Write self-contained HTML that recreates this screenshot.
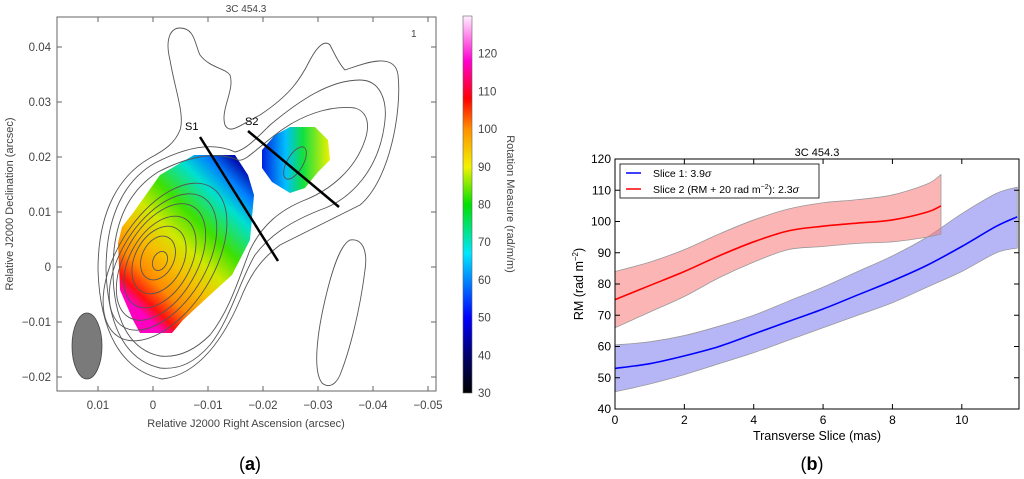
<!DOCTYPE html>
<html><head><meta charset="utf-8"><style>
body{margin:0;background:#fff;width:1024px;height:479px;overflow:hidden}
svg{position:absolute;left:0;top:0}
text{font-family:"Liberation Sans",sans-serif}
</style></head><body>
<svg width="1024" height="479">
<defs>
<linearGradient id="cb" x1="0" y1="1" x2="0" y2="0">
<stop offset="0" stop-color="#000"/><stop offset="0.1" stop-color="#00006e"/><stop offset="0.2" stop-color="#0000ff"/>
<stop offset="0.37" stop-color="#00e6ff"/><stop offset="0.5" stop-color="#00e000"/><stop offset="0.6" stop-color="#f2f200"/>
<stop offset="0.7" stop-color="#ff9000"/><stop offset="0.78" stop-color="#ff0000"/><stop offset="0.88" stop-color="#ff00d0"/><stop offset="1" stop-color="#fff0ff"/>
</linearGradient>
<linearGradient id="g1" gradientUnits="userSpaceOnUse" x1="118" y1="290" x2="240" y2="165">
<stop offset="0" stop-color="#ff00c0"/><stop offset="0.07" stop-color="#ff1010"/><stop offset="0.18" stop-color="#ff8a00"/>
<stop offset="0.32" stop-color="#f5c000"/><stop offset="0.45" stop-color="#d0e800"/><stop offset="0.6" stop-color="#40e000"/><stop offset="0.78" stop-color="#00e0d0"/><stop offset="0.9" stop-color="#0080ff"/><stop offset="1" stop-color="#0010b0"/>
</linearGradient>
<linearGradient id="g2" gradientUnits="userSpaceOnUse" x1="262" y1="160" x2="330" y2="160">
<stop offset="0" stop-color="#0020e0"/><stop offset="0.35" stop-color="#00c0ff"/><stop offset="0.6" stop-color="#10e040"/><stop offset="1" stop-color="#f0f000"/>
</linearGradient>
</defs>

<g>
<text x="246" y="12" font-size="10" fill="#444" text-anchor="middle">3C 454.3</text>
<path d="M118,243 L122,227 L133,213 L160,175 L194,155 L235,155 L248,175 L254,195 L250,240 L232,275 L210,295 L183,320 L172,333 L140,333 L133,320 L120,290 Z" fill="url(#g1)"/>
<path d="M262,150 L275,135 L290,127 L315,127 L328,140 L330,160 L318,172 L305,188 L290,193 L272,182 L262,168 Z" fill="url(#g2)"/>
<g fill="none" stroke="#555" stroke-width="0.9">
<path d="M162,379 C120,370 100,330 98,270 C98,210 120,175 150,158 C165,150 175,143 180,130 C185,115 175,90 170,60 C165,40 170,28 180,28 C195,28 195,45 200,55 C210,68 225,68 230,75 C235,90 220,110 225,125 C230,135 240,125 260,115 C290,95 300,80 310,60 C318,45 325,40 330,45 C335,55 340,65 345,70 C360,65 395,50 398,75 C402,110 390,180 360,205 C330,220 300,235 280,245 C260,260 250,275 240,300 C225,335 200,375 162,379 Z"/>
<path d="M160,368 C125,360 108,325 106,270 C106,215 125,180 155,163 C180,150 210,140 235,152 C245,150 255,140 270,125 C300,100 330,80 360,80 C380,80 387,100 385,120 C380,170 350,200 320,210 C290,222 270,235 255,255 C240,280 230,320 210,345 C195,362 180,370 160,368 Z"/>
<path d="M160,356 C130,350 113,320 113,270 C113,220 130,190 158,172 C185,158 215,150 238,160 C245,162 255,150 275,135 C300,115 330,105 355,108 C368,112 370,125 365,140 C355,170 330,190 305,200 C280,210 262,225 250,250 C240,275 230,310 210,335 C195,350 178,358 160,356 Z"/>
<ellipse cx="165" cy="262" rx="48" ry="88" transform="rotate(32 165 262)"/>
<ellipse cx="163" cy="262" rx="42" ry="76" transform="rotate(32 163 262)"/>
<ellipse cx="161" cy="262" rx="36" ry="64" transform="rotate(30 161 262)"/>
<ellipse cx="160" cy="262" rx="30" ry="50" transform="rotate(30 160 262)"/>
<ellipse cx="159" cy="260" rx="24" ry="36" transform="rotate(28 159 260)"/>
<ellipse cx="158" cy="258" rx="16" ry="23" transform="rotate(25 158 258)"/>
<ellipse cx="160" cy="261" rx="7" ry="10" transform="rotate(25 160 261)"/>
<ellipse cx="295" cy="163" rx="8" ry="18" transform="rotate(30 295 163)"/>
<path d="M322,383 C312,370 318,330 325,300 C332,270 340,245 350,240 C362,238 368,250 365,270 C360,310 350,350 340,375 C335,386 328,388 322,383 Z"/>
</g>
<ellipse cx="87" cy="346" rx="15" ry="33" fill="#7a7a7a" stroke="#444" stroke-width="0.8"/>
<line x1="200" y1="137" x2="278" y2="261" stroke="#000" stroke-width="2.5"/>
<line x1="248" y1="131" x2="339" y2="207" stroke="#000" stroke-width="2.5"/>
<text x="185" y="130" font-size="11">S1</text>
<text x="245" y="125" font-size="11">S2</text>
<text x="411" y="37" font-size="10" fill="#444">1</text>
<rect x="57" y="17" width="379" height="374" fill="none" stroke="#666" stroke-width="1"/>
<g id="mapAxes" font-size="11.5" fill="#444"></g>
<text x="246" y="427" font-size="11" fill="#444" text-anchor="middle">Relative J2000 Right Ascension (arcsec)</text>
<text transform="translate(13,204) rotate(-90)" font-size="11" fill="#444" text-anchor="middle">Relative J2000 Declination (arcsec)</text>
<rect x="463" y="16" width="9" height="377" fill="url(#cb)" stroke="#666" stroke-width="0.6"/>
<g id="cbTicks" font-size="11.5" fill="#444"></g>
<text transform="translate(507,204) rotate(90)" font-size="11" fill="#444" text-anchor="middle">Rotation Measure (rad/m/m)</text>
</g>

<g>
<text x="817" y="156" font-size="11" text-anchor="middle">3C 454.3</text>
<g id="bands"></g>
<g id="lines"></g>
<rect x="615" y="159" width="404" height="250" fill="none" stroke="#000" stroke-width="1"/>
<g id="axes" font-size="12"></g>
<text x="817" y="440" font-size="12.5" text-anchor="middle">Transverse Slice (mas)</text>
<text transform="translate(583,284) rotate(-90)" font-size="12.5" text-anchor="middle">RM (rad m<tspan font-size="8" dy="-5">−2</tspan><tspan dy="5">)</tspan></text>
<g>
<rect x="620" y="164" width="199" height="34" fill="#fff" stroke="#000" stroke-width="0.8"/>
<line x1="626" y1="173" x2="641" y2="173" stroke="#00f" stroke-width="1.5"/>
<text x="653" y="177" font-size="10.5">Slice 1: 3.9<tspan font-style="italic">σ</tspan></text>
<line x1="626" y1="189" x2="641" y2="189" stroke="#f00" stroke-width="1.5"/>
<text x="653" y="193" font-size="10.5">Slice 2 (RM + 20 rad m<tspan font-size="7" dy="-4">−2</tspan><tspan dy="4">): 2.3</tspan><tspan font-style="italic">σ</tspan></text>
</g>
</g>
<text x="250" y="470" font-size="18" font-family="Liberation Serif" text-anchor="middle">(<tspan font-weight="bold">a</tspan>)</text>
<text x="812" y="470" font-size="18" font-family="Liberation Serif" text-anchor="middle">(<tspan font-weight="bold">b</tspan>)</text>
</svg>
<script>
const slice1X=[0,1,2,3,4,5,6,7,8,9,10,11,11.6];
const slice1RM=[53,54.5,57,60,64,68,72,76.5,81,86,92,98.5,101.5];
const slice1Upper=[60.5,61.5,63.5,66.5,70,74.5,79,84,89,95,102.5,109,111];
const slice1Lower=[45.5,48,51,54.5,58,62,66,70,74,79,84,90,91.5];
const slice2X=[0,1,2,3,4,5,6,7,8,9,9.4];
const slice2RM=[75,79.5,84,89,93.5,97,98.5,99.5,100.5,103,105];
const slice2Upper=[84,87,91,96,100.5,104,106,107,108.5,112,115];
const slice2Lower=[66,71,76,82,87,91,92,93,93.5,95,96];
const xTicks=[0,2,4,6,8,10];
const yTicks=[40,50,60,70,80,90,100,110,120];
const mapXTicks=[0.01,0,-0.01,-0.02,-0.03,-0.04,-0.05];
const mapYTicks=[0.04,0.03,0.02,0.01,0,-0.01,-0.02];
const cbTicks=[30,40,50,60,70,80,90,100,110,120];
const NS='http://www.w3.org/2000/svg';
const X=v=>615+v*(404/11.65), Y=v=>409-(v-40)*(250/80);
const MX=v=>153-v*5500, MY=v=>267-v*5500, CB=v=>393-(v-30)*3.77;
function mk(t,a,p){const e=document.createElementNS(NS,t);for(const k in a)e.setAttribute(k,a[k]);p.appendChild(e);return e;}
function smooth(xs,ys){let d='';for(let i=0;i<xs.length;i++){const x=X(xs[i]),y=Y(ys[i]);if(i==0){d+='M'+x+','+y;continue;}
const x0=X(xs[i-1]),y0=Y(ys[i-1]);const xm=X(xs[Math.max(i-2,0)]),ym=Y(ys[Math.max(i-2,0)]);const xp=X(xs[Math.min(i+1,xs.length-1)]),yp=Y(ys[Math.min(i+1,xs.length-1)]);
d+=` C${x0+(x-xm)/6},${y0+(y-ym)/6} ${x-(xp-x0)/6},${y-(yp-y0)/6} ${x},${y}`;}return d;}
function band(xs,u,l,fill,name){const up=smooth(xs,u);const lo=smooth(xs.slice().reverse(),l.slice().reverse());
const p=mk('path',{d:up+' L'+lo.slice(1)+' Z',fill:fill,stroke:'#999','stroke-width':0.8},document.getElementById('bands'));

}
band(slice1X,slice1Upper,slice1Lower,'rgba(110,110,240,0.5)','slice1-error-band');
band(slice2X,slice2Upper,slice2Lower,'rgba(250,120,120,0.55)','slice2-error-band');
const l1=mk('path',{d:smooth(slice1X,slice1RM),fill:'none',stroke:'#00f','stroke-width':1.6},document.getElementById('lines'));


const l2=mk('path',{d:smooth(slice2X,slice2RM),fill:'none',stroke:'#f00','stroke-width':1.6},document.getElementById('lines'));


const ax=document.getElementById('axes');
xTicks.forEach(v=>{mk('line',{x1:X(v),x2:X(v),y1:409,y2:404,stroke:'#000'},ax);mk('line',{x1:X(v),x2:X(v),y1:159,y2:164,stroke:'#000'},ax);
const t=mk('text',{x:X(v),y:424,'text-anchor':'middle'},ax);t.textContent=v;

});
yTicks.forEach(v=>{mk('line',{x1:615,x2:620,y1:Y(v),y2:Y(v),stroke:'#000'},ax);mk('line',{x1:1019,x2:1014,y1:Y(v),y2:Y(v),stroke:'#000'},ax);
const t=mk('text',{x:611,y:Y(v)+4,'text-anchor':'end'},ax);t.textContent=v;

});
const ma=document.getElementById('mapAxes');
mapXTicks.forEach(v=>{mk('line',{x1:MX(v),x2:MX(v),y1:391,y2:386,stroke:'#666'},ma);mk('line',{x1:MX(v),x2:MX(v),y1:17,y2:22,stroke:'#666'},ma);
const t=mk('text',{x:MX(v),y:409,'text-anchor':'middle'},ma);t.textContent=v==0?'0':String(v).replace('-','−');

});
mapYTicks.forEach(v=>{mk('line',{x1:57,x2:62,y1:MY(v),y2:MY(v),stroke:'#666'},ma);mk('line',{x1:436,x2:431,y1:MY(v),y2:MY(v),stroke:'#666'},ma);
const t=mk('text',{x:51,y:MY(v)+4,'text-anchor':'end'},ma);t.textContent=v==0?'0':String(v).replace('-','−');

});
const cb=document.getElementById('cbTicks');
cbTicks.forEach(v=>{const t=mk('text',{x:478,y:CB(v)+4},cb);t.textContent=v;

});
</script>
</body></html>
